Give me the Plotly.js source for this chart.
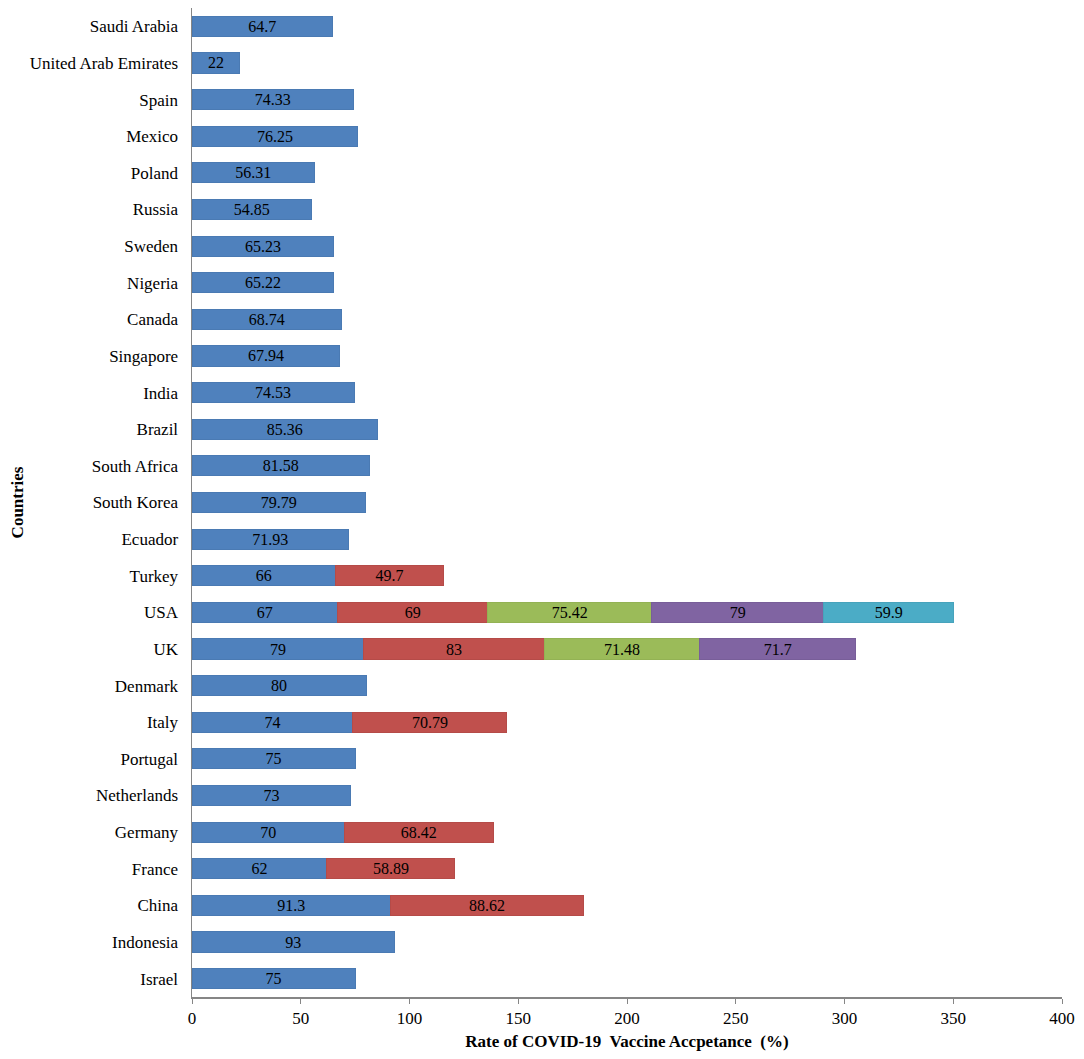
<!DOCTYPE html>
<html>
<head>
<meta charset="utf-8">
<script src="https://cdn.plot.ly/plotly-3.0.1.min.js"></script>
<style>html,body{margin:0;padding:0;background:#fff;}#chart{width:1084px;height:1059px;}</style>
</head>
<body>
<div id="chart"></div>
<script>
const countries = ["Israel","Indonesia","China","France","Germany","Netherlands","Portugal","Italy","Denmark","UK","USA","Turkey","Ecuador","South Korea","South Africa","Brazil","India","Singapore","Canada","Nigeria","Sweden","Russia","Poland","Mexico","Spain","United Arab Emirates","Saudi Arabia"];
const study1 = [75,93,91.3,62,70,73,75,74,80,79,67,66,71.93,79.79,81.58,85.36,74.53,67.94,68.74,65.22,65.23,54.85,56.31,76.25,74.33,22,64.7];
const study2 = [null,null,88.62,58.89,68.42,null,null,70.79,null,83,69,49.7,null,null,null,null,null,null,null,null,null,null,null,null,null,null,null];
const study3 = [null,null,null,null,null,null,null,null,null,71.48,75.42,null,null,null,null,null,null,null,null,null,null,null,null,null,null,null,null];
const study4 = [null,null,null,null,null,null,null,null,null,71.7,79,null,null,null,null,null,null,null,null,null,null,null,null,null,null,null,null];
const study5 = [null,null,null,null,null,null,null,null,null,null,59.9,null,null,null,null,null,null,null,null,null,null,null,null,null,null,null,null];

const colors = ["#4F81BD","#C0504D","#9BBB59","#8064A2","#4BACC6"];
const borders = ["#4a7ab3","#b54b48","#93b254","#785e99","#47a3bc"];
const series = [study1,study2,study3,study4,study5];
const serif = '"Liberation Serif","Times New Roman",serif';

const traces = series.map((vals,i)=>({
  type:'bar',
  orientation:'h',
  y:countries,
  x:vals,
  text:vals.map(v=>v==null?'':String(v)),
  textposition:'inside',
  insidetextanchor:'middle',
  textangle:0,
  constraintext:'none',
  insidetextfont:{family:serif,size:16,color:'#000'},
  marker:{color:colors[i],line:{color:borders[i],width:1}},
  hoverinfo:'x+y',
  showlegend:false
}));

const layout = {
  width:1084,height:1059,
  margin:{l:192,r:22,t:8,b:62},
  barmode:'stack',
  bargap:0.45,
  paper_bgcolor:'#fff',plot_bgcolor:'#fff',
  font:{family:serif,size:17,color:'#000'},
  xaxis:{
    range:[0,400],dtick:50,tick0:0,
    showgrid:false,zeroline:false,
    showline:true,linecolor:'#868686',linewidth:1.5,
    ticks:'outside',ticklen:5,tickcolor:'#868686',
    tickfont:{size:17},
    automargin:false,
    title:{text:'<b>Rate of COVID-19  Vaccine Accpetance  (%)</b>',font:{size:17},standoff:8}
  },
  yaxis:{
    type:'category',
    categoryorder:'array',categoryarray:countries,
    range:[-0.5,26.5],
    showgrid:false,zeroline:false,
    showline:true,linecolor:'#868686',linewidth:1.5,
    ticks:'',ticklen:0,
    ticklabelstandoff:9,
    tickfont:{size:17},
    automargin:false,
    title:{text:'<b>Countries</b>',font:{size:17},standoff:2}
  }
};

Plotly.newPlot('chart',traces,layout,{displayModeBar:false,staticPlot:true});
</script>
</body>
</html>
